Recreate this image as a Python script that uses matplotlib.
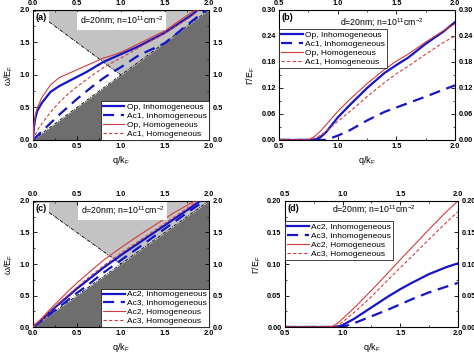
import matplotlib
matplotlib.use("Agg")
import matplotlib.pyplot as plt
import numpy as np
from matplotlib.ticker import MultipleLocator, FormatStrFormatter

plt.rcParams["font.family"] = ["Liberation Sans", "DejaVu Sans"]
plt.rcParams["mathtext.fontset"] = "custom"
plt.rcParams["mathtext.rm"] = "Liberation Sans"
plt.rcParams["mathtext.it"] = "Liberation Sans"

# ---- panel (a): dispersion, Op / Ac1 ----
qa_op = [0, 0.01, 0.03, 0.05, 0.1, 0.2, 0.3, 0.4, 0.5, 0.6, 0.7, 0.8, 0.9, 1.0, 1.2, 1.5, 1.8, 1.875]
wa_op_inh = [0, 0.2, 0.36, 0.45, 0.57, 0.74, 0.83, 0.9, 0.97, 1.04, 1.12, 1.2, 1.26, 1.32, 1.44, 1.65, 1.92, 2.0]
qa_op_h = [0, 0.01, 0.03, 0.05, 0.1, 0.2, 0.3, 0.4, 0.5, 0.6, 0.7, 0.8, 0.9, 1.0, 1.2, 1.5, 1.8, 1.84]
wa_op_hom = [0, 0.22, 0.4, 0.5, 0.65, 0.85, 0.96, 1.02, 1.08, 1.14, 1.2, 1.26, 1.3, 1.35, 1.48, 1.68, 1.96, 2.0]
qa_ac = [0, 0.1, 0.2, 0.3, 0.4, 0.5, 0.6, 0.7, 0.8, 0.9, 1.0, 1.2, 1.5, 1.8, 1.97]
wa_ac_inh = [0, 0.13, 0.26, 0.39, 0.51, 0.63, 0.74, 0.85, 0.95, 1.04, 1.12, 1.3, 1.49, 1.82, 2.0]
qa_ac_h = [0, 0.05, 0.1, 0.2, 0.3, 0.4, 0.5, 0.6, 0.7, 0.8, 0.9, 1.0, 1.2, 1.5, 1.8, 1.88]
wa_ac_hom = [0, 0.15, 0.25, 0.43, 0.58, 0.71, 0.82, 0.92, 1.02, 1.11, 1.19, 1.26, 1.42, 1.64, 1.9, 2.0]

# ---- panel (b): damping, Op / Ac1 ----
qb = [0.5, 0.75, 0.8, 0.85, 0.9, 1.0, 1.1, 1.25, 1.4, 1.5, 1.6, 1.75, 1.9, 2.0]
gb_op_inh = [0, 0, 0, 0.006, 0.018, 0.052, 0.08, 0.12, 0.155, 0.173, 0.19, 0.222, 0.25, 0.272]
gb_ac_inh = [0, 0, 0, 0, 0, 0.01, 0.022, 0.045, 0.065, 0.075, 0.085, 0.1, 0.116, 0.126]
gb_op_hom = [0, 0, 0.008, 0.02, 0.035, 0.066, 0.093, 0.13, 0.163, 0.182, 0.198, 0.226, 0.252, 0.268]
gb_ac_hom = [0, 0, 0.004, 0.01, 0.02, 0.043, 0.065, 0.1, 0.133, 0.153, 0.17, 0.198, 0.225, 0.24]

# ---- panel (c): dispersion, Ac2 / Ac3 ----
qc = [0, 0.1, 0.2, 0.3, 0.4, 0.5, 0.6, 0.7, 0.8, 0.9, 1.0, 1.2, 1.4, 1.6, 1.8]
wc_ac2_inh = [0, 0.12, 0.25, 0.37, 0.49, 0.61, 0.72, 0.83, 0.94, 1.04, 1.14, 1.33, 1.52, 1.71, 1.9]
wc_ac3_inh = [0, 0.1, 0.21, 0.32, 0.43, 0.54, 0.64, 0.75, 0.86, 0.96, 1.06, 1.26, 1.46, 1.66, 1.86]
wc_ac2_hom = [0, 0.14, 0.29, 0.43, 0.57, 0.7, 0.82, 0.94, 1.06, 1.16, 1.26, 1.45, 1.63, 1.81, 1.97]
wc_ac3_hom = [0, 0.13, 0.26, 0.39, 0.51, 0.63, 0.75, 0.86, 0.97, 1.07, 1.17, 1.36, 1.55, 1.74, 1.93]
# q where each curve reaches the top of the frame
qc_end = {"ac2_inh": 1.9, "ac3_inh": 1.95, "ac2_hom": 1.84, "ac3_hom": 1.87}

# ---- panel (d): damping, Ac2 / Ac3 ----
qd = [0.5, 0.9, 0.95, 1.0, 1.1, 1.25, 1.4, 1.5, 1.6, 1.75, 1.9, 2.0]
gd_ac2_inh = [0, 0, 0, 0.003, 0.013, 0.031, 0.049, 0.06, 0.07, 0.084, 0.095, 0.101]
gd_ac3_inh = [0, 0, 0, 0, 0.006, 0.017, 0.028, 0.036, 0.044, 0.055, 0.064, 0.07]
gd_ac2_hom = [0, 0, 0.005, 0.013, 0.03, 0.058, 0.087, 0.107, 0.126, 0.155, 0.183, 0.2]
gd_ac3_hom = [0, 0, 0.002, 0.008, 0.023, 0.048, 0.076, 0.094, 0.112, 0.139, 0.166, 0.183]

BLUE = "#1515c8"
RED = "#d23c3c"
DASH_B = (0, (5, 3))
DASH_R = (0, (3, 2))
INFO = r"d=20nm; n=10$^{11}$cm$^{-2}$"


def style_axes(ax, xlim, ylim, xmaj, ymaj, yfmt):
    ax.set_xlim(*xlim)
    ax.set_ylim(*ylim)
    ax.xaxis.set_major_locator(MultipleLocator(xmaj))
    ax.xaxis.set_minor_locator(MultipleLocator(xmaj / 2))
    ax.yaxis.set_major_locator(MultipleLocator(ymaj))
    ax.yaxis.set_minor_locator(MultipleLocator(ymaj / 2))
    ax.xaxis.set_major_formatter(FormatStrFormatter("%.1f"))
    ax.yaxis.set_major_formatter(FormatStrFormatter(yfmt))
    ax.tick_params(which="both", direction="in", top=True, right=True,
                   labeltop=True, labelright=True, labelsize=5.3)
    ax.tick_params(axis="x", pad=2)
    ax.tick_params(axis="y", pad=2.5)
    ax.tick_params(which="major", length=3, width=0.6)
    ax.tick_params(which="minor", length=1.5, width=0.5)
    for lab in ax.get_xticklabels() + ax.get_yticklabels():
        lab.set_fontweight("bold")
    for sp in ax.spines.values():
        sp.set_linewidth(0.8)
    ax.set_xlabel(r"q/k$_F$", fontsize=6.5, labelpad=3)


def shade(ax):
    q = np.array([0.0, 1.0, 2.0])
    ax.fill_between(q, 0, q, color="#6e6e6e", lw=0, zorder=0)
    ax.fill_between(q, np.maximum(q, 2 - q), 2, color="#c3c3c3", lw=0, zorder=0)
    ax.plot([0, 1], [2, 1], color="black", lw=0.6, ls=(0, (4, 1.5, 1, 1.5)), zorder=1)
    ax.plot([0, 2], [0, 2], color="black", lw=0.6, ls=(0, (4, 1.5, 1, 1.5)), zorder=1)


def legend(ax, **kw):
    leg = ax.legend(fontsize=6, frameon=True, fancybox=False, framealpha=1,
                    handlelength=2.6, handletextpad=0.3, labelspacing=0.12,
                    borderpad=0.25, borderaxespad=0, **kw)
    leg.get_frame().set_edgecolor("#222222")
    leg.get_frame().set_linewidth(0.6)
    leg.set_zorder(5)


def panel_label(ax, s):
    ax.text(0.015, 0.975, s, transform=ax.transAxes, fontsize=6.5, fontweight="bold",
            va="top", ha="left", zorder=6,
            bbox=dict(facecolor="white", edgecolor="none", pad=1.2))


fig = plt.figure(figsize=(4.74, 3.57), dpi=100)

# (a)
ax = fig.add_axes([0.0696, 0.608, 0.371, 0.364])
shade(ax)
ax.plot(qa_op, wa_op_inh, color=BLUE, lw=1.6, label="Op, Inhomogeneous", zorder=3)
ax.plot(qa_ac, wa_ac_inh, color=BLUE, lw=1.6, ls=DASH_B, label="Ac1, Inhomogeneous", zorder=3)
ax.plot(qa_op_h, wa_op_hom, color=RED, lw=0.8, label="Op, Homogeneous", zorder=3)
ax.plot(qa_ac_h, wa_ac_hom, color=RED, lw=0.8, ls=DASH_R, label="Ac1, Homogeneous", zorder=3)
style_axes(ax, (0, 2), (0, 2), 0.5, 0.5, "%.1f")
ax.set_ylabel(r"$\omega$/E$_F$", fontsize=6.5, labelpad=3)
legend(ax, loc="lower right")
panel_label(ax, "(a)")
ax.text(0.506, 0.915, INFO, transform=ax.transAxes, fontsize=6.3, ha="center", va="center",
        zorder=6, bbox=dict(facecolor="white", edgecolor="none", pad=1.8))

# (b)
ax = fig.add_axes([0.589, 0.608, 0.371, 0.364])
ax.plot(qb, gb_op_inh, color=BLUE, lw=1.6, label="Op, Inhomogeneous")
ax.plot(qb, gb_ac_inh, color=BLUE, lw=1.6, ls=DASH_B, label="Ac1, Inhomogeneous")
ax.plot(qb, gb_op_hom, color=RED, lw=0.8, label="Op, Homogeneous")
ax.plot(qb, gb_ac_hom, color=RED, lw=0.8, ls=DASH_R, label="Ac1, Homogeneous")
style_axes(ax, (0.5, 2.0), (0, 0.3), 0.5, 0.06, "%.2f")
ax.set_ylabel(r"$\Gamma$/E$_F$", fontsize=6.5, labelpad=3)
legend(ax, loc="upper left", bbox_to_anchor=(0, 0.85))
panel_label(ax, "(b)")
ax.text(0.585, 0.9, INFO, transform=ax.transAxes, fontsize=6.3, ha="center", va="center")

# (c)
ax = fig.add_axes([0.0696, 0.084, 0.371, 0.353])
shade(ax)
ax.plot(qc + [qc_end["ac2_inh"]], wc_ac2_inh + [2.0], color=BLUE, lw=1.6,
        label="Ac2, Inhomogeneous", zorder=3)
ax.plot(qc + [qc_end["ac3_inh"]], wc_ac3_inh + [2.0], color=BLUE, lw=1.6, ls=DASH_B,
        label="Ac3, Inhomogeneous", zorder=3)
ax.plot(qc + [qc_end["ac2_hom"]], wc_ac2_hom + [2.0], color=RED, lw=0.8,
        label="Ac2, Homogeneous", zorder=3)
ax.plot(qc + [qc_end["ac3_hom"]], wc_ac3_hom + [2.0], color=RED, lw=0.8, ls=DASH_R,
        label="Ac3, Homogeneous", zorder=3)
style_axes(ax, (0, 2), (0, 2), 0.5, 0.5, "%.1f")
ax.set_ylabel(r"$\omega$/E$_F$", fontsize=6.5, labelpad=3)
legend(ax, loc="lower right")
panel_label(ax, "(c)")
ax.text(0.51, 0.92, INFO, transform=ax.transAxes, fontsize=6.3, ha="center", va="center",
        zorder=6, bbox=dict(facecolor="white", edgecolor="none", pad=1.8))

# (d)
ax = fig.add_axes([0.601, 0.084, 0.365, 0.353])
ax.plot(qd, gd_ac2_inh, color=BLUE, lw=1.6, label="Ac2, Inhomogeneous")
ax.plot(qd, gd_ac3_inh, color=BLUE, lw=1.6, ls=DASH_B, label="Ac3, Inhomogeneous")
ax.plot(qd, gd_ac2_hom, color=RED, lw=0.8, label="Ac2, Homogeneous")
ax.plot(qd, gd_ac3_hom, color=RED, lw=0.8, ls=DASH_R, label="Ac3, Homogeneous")
style_axes(ax, (0.5, 2.0), (0, 0.2), 0.5, 0.05, "%.2f")
ax.set_ylabel(r"$\Gamma$/E$_F$", fontsize=6.5, labelpad=3)
legend(ax, loc="upper left", bbox_to_anchor=(0, 0.84))
panel_label(ax, "(d)")
ax.text(0.517, 0.93, INFO, transform=ax.transAxes, fontsize=6.3, ha="center", va="center")

fig.savefig("out.png", dpi=100)
